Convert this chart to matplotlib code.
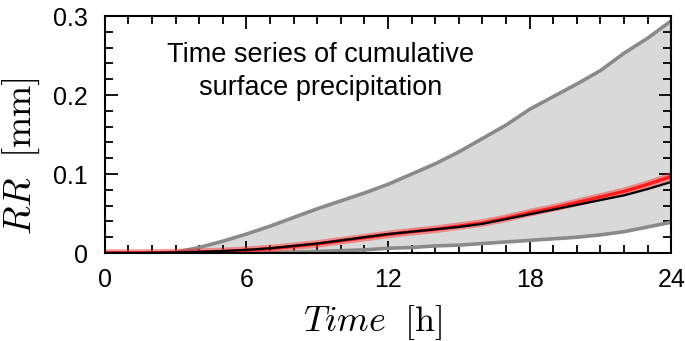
import matplotlib
matplotlib.use("Agg")
import matplotlib.pyplot as plt
from matplotlib.ticker import MultipleLocator

plt.rcParams['font.family'] = ['Liberation Sans', 'DejaVu Sans']
plt.rcParams['mathtext.fontset'] = 'cm'

# time in hours and cumulative precipitation [mm]
hours = [0, 1, 2, 3, 4, 5, 6, 7, 8, 9, 10, 11, 12,
         13, 14, 15, 16, 17, 18, 19, 20, 21, 22, 23, 24]
upper = [0, 0, 0, 0.001, 0.007, 0.015, 0.024, 0.034, 0.045, 0.056, 0.066, 0.076, 0.087,
         0.100, 0.113, 0.128, 0.145, 0.162, 0.182, 0.198, 0.214, 0.231, 0.253, 0.272, 0.294]
lower = [0, 0, 0, 0, 0, 0, 0, 0.0003, 0.001, 0.002, 0.003, 0.004, 0.006,
         0.007, 0.009, 0.010, 0.012, 0.014, 0.016, 0.018, 0.020, 0.023, 0.027, 0.033, 0.039]
black = [0, 0, 0.0003, 0.0007, 0.0015, 0.0025, 0.004, 0.006, 0.009, 0.012, 0.016, 0.020, 0.024,
         0.027, 0.030, 0.033, 0.037, 0.043, 0.049, 0.055, 0.061, 0.067, 0.073, 0.081, 0.090]
red = [0, 0, 0.0002, 0.0005, 0.0012, 0.002, 0.0035, 0.0055, 0.0085, 0.0115, 0.0155, 0.0195, 0.0235,
       0.027, 0.030, 0.034, 0.038, 0.044, 0.051, 0.057, 0.064, 0.071, 0.078, 0.087, 0.097]

fig = plt.figure(figsize=(6.85, 3.41), dpi=100)
ax = fig.add_axes([0.153, 0.258, 0.827, 0.695])

ax.fill_between(hours, lower, upper, color='#d9d9d9', lw=0)
ax.plot(hours, upper, color='#8a8a8a', lw=2.6)
ax.plot(hours, lower, color='#8a8a8a', lw=2.6)
ax.plot(hours, red, color='#ff2a2a', lw=5.5, alpha=0.45, solid_capstyle='butt')
ax.plot(hours, red, color='#ff1010', lw=2.4, alpha=0.9)
ax.plot(hours, black, color='black', lw=1.6)

ax.set_xlim(0, 24)
ax.set_ylim(0, 0.3)
ax.xaxis.set_major_locator(MultipleLocator(6))
ax.xaxis.set_minor_locator(MultipleLocator(1))
ax.yaxis.set_minor_locator(MultipleLocator(0.02))
ax.set_yticks([0, 0.1, 0.2, 0.3])
ax.set_yticklabels(['0', '0.1', '0.2', '0.3'])
ax.tick_params(which='both', direction='in', top=True, right=True, width=1.3)
ax.tick_params(which='major', length=9, labelsize=18)
ax.tick_params(which='minor', length=5.5)
ax.tick_params(axis='x', pad=11)
ax.tick_params(axis='y', pad=12)
for s in ax.spines.values():
    s.set_linewidth(1.5)

ax.set_ylabel(r'$RR\;\ [\mathrm{mm}]$', fontsize=27, va='center')
ax.yaxis.set_label_coords(-0.148, 0.41)
ax.set_xlabel(r'$Time\;\ [\mathrm{h}]$', fontsize=26, va='center')
ax.xaxis.set_label_coords(0.472, -0.295)

ax.text(0.381, 0.765, 'Time series of cumulative\nsurface precipitation',
        transform=ax.transAxes, ha='center', va='center', fontsize=19.5,
        linespacing=1.35)

fig.savefig('out.png', dpi=100)
